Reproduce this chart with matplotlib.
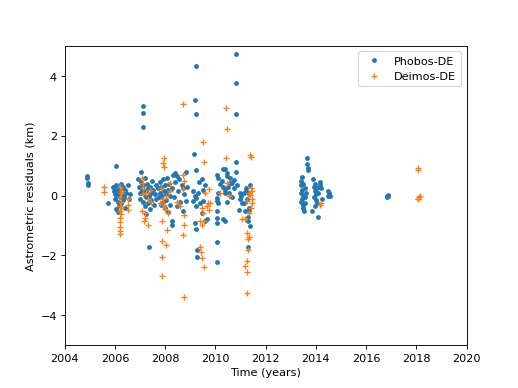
import matplotlib
matplotlib.use("Agg")
import matplotlib.pyplot as plt

# Phobos-DE residuals (time in years, residual in km)
phobos_t = [
    2004.88, 2004.88, 2004.92, 2004.92,
    2005.72, 2006.04,
    # 2006
    2005.92, 2005.95, 2005.98, 2006.00, 2006.02, 2006.05, 2006.08, 2006.10, 2006.12, 2006.15,
    2006.18, 2006.20, 2006.22, 2006.25, 2006.28, 2006.30, 2006.32, 2006.35, 2006.38, 2006.40,
    2006.05, 2006.12, 2006.45, 2006.50, 2006.55, 2006.60, 2006.25, 2006.15,
    # 2007
    2006.92, 2006.95, 2006.98, 2007.00, 2007.02, 2007.05, 2007.08, 2007.10, 2007.12, 2007.15,
    2007.18, 2007.20, 2007.22, 2007.25, 2007.28, 2007.30, 2007.32, 2007.35, 2007.38, 2007.40,
    2007.42, 2007.45, 2007.48, 2007.50, 2007.55, 2007.58, 2007.62, 2007.65, 2007.13, 2007.13,
    2007.13, 2007.35, 2007.22,
    # 2008
    2007.72, 2007.75, 2007.78, 2007.80, 2007.82, 2007.85, 2007.88, 2007.90, 2007.92, 2007.95,
    2007.98, 2008.00, 2008.02, 2008.05, 2008.08, 2008.10, 2008.12, 2008.15, 2008.18, 2008.20,
    2008.25, 2008.30, 2008.35, 2008.40, 2008.45, 2008.50, 2008.55, 2008.60, 2008.65, 2008.70,
    2008.75, 2008.27, 2008.27, 2008.84, 2008.84, 2008.40, 2008.46,
    # 2009
    2009.10, 2009.15, 2009.23, 2009.46, 2009.17, 2009.23, 2009.23, 2009.17, 2009.52, 2009.10,
    2009.23, 2009.52, 2009.23, 2009.46, 2009.20, 2009.23, 2009.59, 2008.88, 2008.70, 2009.66,
    2009.26, 2009.26, 2009.35, 2009.30, 2009.40, 2009.60,
    # 2010
    2010.06, 2010.12, 2010.39, 2010.46, 2010.59, 2010.65, 2010.72, 2010.20, 2010.30, 2010.37,
    2010.06, 2010.08, 2010.46, 2011.00, 2010.98, 2010.92, 2010.06, 2010.06, 2010.06, 2010.37,
    2010.06, 2010.08, 2010.32, 2010.30, 2010.46, 2010.59, 2010.39, 2010.10, 2010.12, 2010.96,
    2010.83, 2010.83, 2010.83, 2010.80, 2010.80, 2010.55, 2010.65, 2010.75, 2010.85, 2010.25,
    2010.50,
    # 2011
    2011.39, 2011.12, 2011.07, 2011.34, 2011.28, 2011.39, 2011.30, 2011.20, 2011.25, 2011.32,
    2011.22, 2011.35, 2011.12, 2011.19, 2011.28,
    # 2013-2014
    2013.65, 2013.65, 2013.68, 2013.68, 2013.45, 2013.42, 2013.40, 2013.48, 2013.45, 2013.40,
    2013.50, 2013.45, 2013.42, 2013.50, 2013.55, 2013.55, 2013.60, 2013.58, 2013.48, 2013.52,
    2013.90, 2013.95, 2013.92, 2013.95, 2014.00, 2013.92, 2014.00, 2014.05, 2013.98, 2014.05,
    2014.10, 2013.85, 2014.07, 2014.15, 2014.18, 2014.20, 2014.25, 2014.48, 2014.52, 2014.55,
    2014.50,
    # 2016
    2016.82, 2016.86, 2016.84, 2016.88,
]
phobos_res = [
    0.65, 0.58, 0.42, 0.35,
    -0.25, 1.00,
    0.30, 0.15, 0.05, -0.10, 0.35, 0.20, 0.00, -0.20, 0.25, 0.10,
    -0.05, -0.30, 0.40, 0.15, 0.05, -0.15, 0.30, -0.05, 0.20, -0.40,
    -0.45, -0.55, 0.10, 0.35, -0.10, 0.05, -0.25, -0.35,
    0.55, 0.30, 0.10, -0.10, 0.78, 0.45, 0.20, -0.20, 0.35, 0.05,
    -0.35, 0.60, 0.15, -0.05, 0.40, -0.25, 0.25, 0.00, -0.45, 0.30,
    0.10, -0.15, 0.50, 0.20, -0.30, 0.05, 0.35, -0.10, 3.00, 2.75,
    2.28, -1.73, -0.60,
    0.25, -0.05, 0.45, 0.10, -0.30, 0.30, 0.00, -0.20, 0.55, 0.15,
    -0.40, 0.35, 0.05, -0.15, 0.60, 0.20, -0.55, 0.40, 0.00, -0.30,
    0.25, 0.70, -0.05, 0.45, -0.35, 0.15, 0.55, -0.20, 0.35, -0.50,
    0.05, -0.86, -0.97, -0.19, 0.77, 0.74, 0.65,
    0.14, 1.39, 0.85, 0.54, 3.18, 4.32, 2.72, -0.02, -0.19, -0.19,
    -0.08, 0.20, -0.36, -0.58, -0.92, -1.12, -0.86, 0.29, 0.26, -0.80,
    -1.81, -2.04, 0.45, 0.10, -0.25, 0.35,
    0.70, 0.59, 0.90, 0.76, 0.59, 0.43, 0.51, 0.37, 0.30, 0.09,
    -0.08, -0.19, -0.22, -0.02, -0.10, -0.47, -0.53, -0.75, -0.92, -0.86,
    -1.55, -2.22, -0.80, 0.87, 0.65, 0.43, 0.20, 0.09, -0.25, 0.09,
    4.74, 3.76, 2.73, 1.12, 0.78, 0.10, -0.05, 0.25, 0.35, 0.50,
    0.30,
    0.34, 0.09, -0.25, -0.47, -0.70, -1.03, -0.86, 0.26, -0.13, -0.41,
    0.15, 0.05, -0.25, -0.53, -1.72,
    1.24, 1.07, 0.93, 0.85, 0.62, 0.50, 0.35, 0.40, 0.20, 0.10,
    0.00, -0.10, -0.20, -0.30, -0.25, 0.25, 0.10, -0.05, -0.40, -0.50,
    0.55, 0.40, 0.30, 0.15, 0.05, -0.05, -0.15, -0.25, -0.35, 0.25,
    0.10, -0.53, -0.70, 0.45, 0.35, 0.25, -0.10, 0.15, 0.08, 0.00,
    -0.02,
    -0.02, 0.03, -0.06, 0.00,
]

# Deimos-DE residuals
deimos_t = [
    2005.57, 2005.57,
    # 2006
    2006.20, 2006.22, 2006.20, 2006.22, 2006.20, 2006.18, 2006.22, 2006.20, 2006.18, 2006.20,
    2006.18, 2006.20, 2006.50, 2006.52, 2006.50, 2006.28, 2006.25,
    # 2007
    2007.07, 2007.13, 2007.13, 2007.07, 2007.20, 2007.33, 2007.20, 2007.15, 2007.25, 2007.30,
    2007.40, 2007.10, 2007.45,
    # 2008
    2007.80, 2007.87, 2008.07, 2007.95, 2007.92, 2007.97, 2008.20, 2008.20, 2008.12, 2007.90,
    2007.95, 2008.00, 2008.05, 2007.85, 2007.88, 2008.05, 2007.88, 2007.88, 2008.70, 2008.72,
    2008.76, 2008.70, 2008.76, 2008.76, 2008.70, 2008.76, 2008.60, 2008.45,
    # 2009
    2009.52, 2009.56, 2009.59, 2009.76, 2009.79, 2009.76, 2009.46, 2009.52, 2009.39, 2009.46,
    2009.56, 2009.39, 2009.42, 2009.46, 2009.56, 2009.66, 2009.72,
    # 2010
    2010.43, 2010.45, 2010.43, 2010.46, 2010.52, 2010.20,
    # 2011
    2011.39, 2011.42, 2011.39, 2011.46, 2011.46, 2011.42, 2011.32, 2011.19, 2011.25, 2011.32,
    2011.45, 2011.42, 2011.25, 2011.28, 2011.28, 2011.25, 2011.19, 2011.25, 2011.25, 2011.35,
    2011.07,
    # 2014
    2014.18, 2014.20,
    # 2018
    2018.07, 2018.07, 2018.05, 2018.10, 2018.15, 2018.08,
]
deimos_res = [
    0.30, 0.13,
    0.27, 0.10, -0.05, -0.20, -0.35, -0.50, -0.62, -0.75, -0.90, -1.05,
    -1.20, -1.30, -0.13, -0.30, -0.47, 0.15, -0.40,
    0.59, 0.43, 0.26, -0.53, -0.58, -0.97, -0.75, -0.85, 0.10, -0.10,
    0.20, 0.05, -0.20,
    -0.25, -0.86, -1.14, 1.26, 1.10, 0.97, 0.14, 0.43, -0.58, -0.10,
    -0.30, -0.45, 0.00, 0.25, -1.53, -1.64, -2.04, -2.68, 3.06, 0.67,
    0.48, 0.22, -0.64, -0.97, -1.31, -3.38, -0.35, -0.20,
    1.80, 1.12, 0.09, 0.22, -0.25, -0.47, -0.41, -0.58, -0.86, -1.00,
    -0.86, -1.73, -1.90, -2.10, -2.40, -0.36, -0.25,
    2.94, 2.21, 1.26, 0.43, 0.00, 0.10,
    1.35, 1.30, 0.03, 0.14, -0.25, -0.41, -0.58, -0.80, -0.19, 0.09,
    -0.10, 0.25, -1.25, -1.44, -1.81, -2.20, -2.37, -2.57, -3.24, -1.37,
    -0.80,
    -0.30, -0.25,
    0.92, 0.85, -0.13, -0.05, -0.02, -0.10,
]

fig = plt.figure(figsize=(6.4, 4.8), dpi=81)
plt.plot(phobos_t, phobos_res, '.', markersize=6.5, label='Phobos-DE')
plt.plot(deimos_t, deimos_res, '+', markersize=6, markeredgewidth=1.2, label='Deimos-DE')
plt.xlim(2004, 2020)
plt.ylim(-5, 5)
plt.xticks(range(2004, 2021, 2))
plt.xlabel('Time (years)')
plt.ylabel('Astrometric residuals (km)')
plt.legend(loc='upper right')
plt.savefig('out.png', dpi=81)
